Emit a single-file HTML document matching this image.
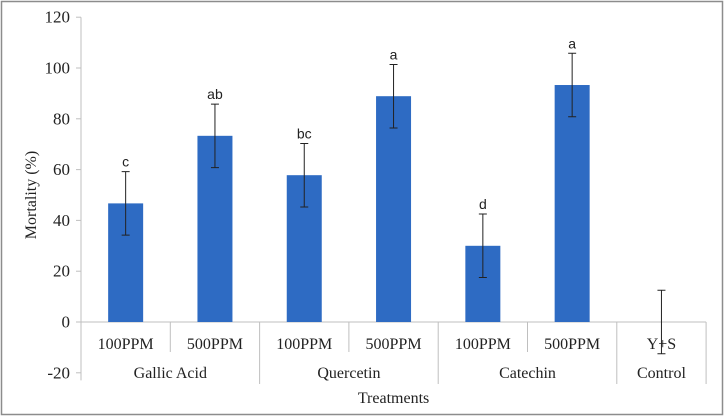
<!DOCTYPE html>
<html><head><meta charset="utf-8"><style>
body{margin:0;background:#fff;}
svg{display:block;font-family:"Liberation Serif",serif;}
</style></head><body>
<svg id="chart" width="724" height="417">
<rect x="1.5" y="1.5" width="721" height="413" fill="#fff" stroke="#8c8c8c" stroke-width="1.5"/>
<g id="g"></g>
</svg>
<script>
const categories=["100PPM","500PPM","100PPM","500PPM","100PPM","500PPM","Y+S"];
const groups=["Gallic Acid","Quercetin","Catechin","Control"];
const groupSizes=[2,2,2,1];
const values=[46.7,73.3,57.8,88.9,30,93.3,0];
const errors=[12.5,12.5,12.5,12.5,12.5,12.5,12.5];
const letters=["c","ab","bc","a","d","a",""];
const yTicks=[-20,0,20,40,60,80,100,120];

const NS="http://www.w3.org/2000/svg";
const g=document.getElementById('g');
const x0=81,catW=89.3,y0=322,pxPer=2.54;
const y=v=>y0-v*pxPer;
const cx=i=>x0+catW*(i+0.5);
function mk(t,a,txt){const e=document.createElementNS(NS,t);for(const k in a)e.setAttribute(k,a[k]);if(txt!==undefined)e.textContent=txt;g.appendChild(e);return e;}

// y axis
let ax=mk('line',{x1:x0,y1:y(120),x2:x0,y2:y(-23),stroke:'#bfbfbf','stroke-width':1});


yTicks.forEach(t=>{
  let tk=mk('line',{x1:x0-5,y1:y(t),x2:x0,y2:y(t),stroke:'#bfbfbf'});
  
  
  let l=mk('text',{x:x0-11,y:y(t)+5.5,'text-anchor':'end','font-size':17,fill:'#222'},t);
  
  
});
// x axis
let xa=mk('line',{x1:x0,y1:y0,x2:x0+catW*categories.length,y2:y0,stroke:'#bfbfbf'});



// bars
values.forEach((v,i)=>{
  const bw=35;
  if(v>0){
    let b=mk('rect',{x:cx(i)-bw/2,y:y(v),width:bw,height:y0-y(v),fill:'#2e6bc3'});
    
    
  }
  const e=errors[i];
  let eb=mk('path',{d:`M${cx(i)},${y(v+e)}V${y(v-e)}M${cx(i)-4},${y(v+e)}H${cx(i)+4}M${cx(i)-4},${y(v-e)}H${cx(i)+4}`,stroke:'#222','stroke-width':1,fill:'none'});
  
  
  if(letters[i]){
    let lt=mk('text',{x:cx(i),y:y(v+e)-5,'text-anchor':'middle','font-size':14,'font-family':'Liberation Sans, sans-serif',fill:'#222'},letters[i]);
    
    
  }
  let cl=mk('text',{x:cx(i),y:349,'text-anchor':'middle','font-size':16,fill:'#222'},categories[i]);
  
  
});
// dividers
let idx=0;
groups.forEach((gn,k)=>{
  const start=idx,n=groupSizes[k];
  for(let j=1;j<n;j++){
    let d=mk('line',{x1:x0+catW*(start+j),y1:y0,x2:x0+catW*(start+j),y2:352,stroke:'#bfbfbf'});
    
    
  }
  idx+=n;
  let d2=mk('line',{x1:x0+catW*idx,y1:y0,x2:x0+catW*idx,y2:384,stroke:'#bfbfbf'});
  
  
  let gl=mk('text',{x:x0+catW*(start+n/2),y:378,'text-anchor':'middle','font-size':16,fill:'#222'},gn);
  
  
});
let xt=mk('text',{x:x0+catW*3.5,y:403,'text-anchor':'middle','font-size':16,fill:'#222'},'Treatments');


let yt=mk('text',{x:0,y:0,'text-anchor':'middle','font-size':16,fill:'#222',transform:`translate(36,${y(50)}) rotate(-90)`},'Mortality (%)');


</script>
</body></html>
